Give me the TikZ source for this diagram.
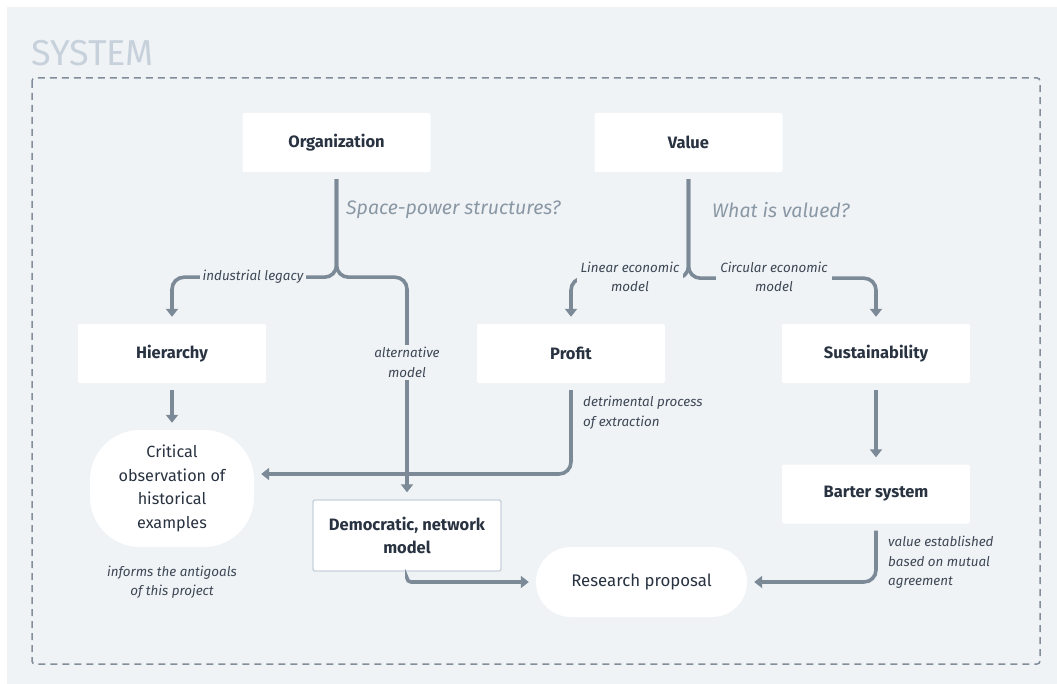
\documentclass[tikz,border=0pt]{standalone}
\usepackage{fontspec}
\setmainfont{Fira Sans}
\usetikzlibrary{arrows.meta,calc}
\definecolor{bg}{RGB}{239,243,246}
\definecolor{ln}{RGB}{124,138,152}
\definecolor{txt}{RGB}{40,50,64}
\definecolor{lbl}{RGB}{62,72,85}
\definecolor{qcol}{RGB}{138,151,164}
\definecolor{syscol}{RGB}{199,209,219}
\definecolor{framecol}{RGB}{130,142,155}
\definecolor{demborder}{RGB}{200,210,220}
\tikzset{
  box/.style={fill=white, rounded corners=2pt, minimum width=188pt, minimum height=59pt,
    inner sep=0pt, text=txt, align=center, font=\bfseries\fontsize{16.5}{21}\selectfont},
  conn/.style={draw=ln, line width=3.6pt, rounded corners=12pt, shorten <=7pt, shorten >=7pt,
    -{Triangle[width=12pt,length=8pt]}},
  lab/.style={text=lbl, font=\itshape\fontsize{13.4}{19.5}\selectfont, inner sep=0pt},
  flab/.style={lab, fill=bg, inner xsep=3pt, inner ysep=2pt, align=center},
  quest/.style={text=qcol, font=\itshape\fontsize{19.5}{23}\selectfont, inner sep=0pt, anchor=west},
}
\begin{document}
\begin{tikzpicture}[x=1pt,y=-1pt]
\useasboundingbox (0,0) rectangle (1057,684);
\fill[white] (0,0) rectangle (1057,684);
\fill[bg] (7,7) rectangle (1057,684);
\node[text=syscol, font=\fontsize{36}{40}\selectfont, anchor=base west, inner sep=0pt] (sys) at (31,66) {SYSTEM};
\draw[framecol, line width=1.5pt, dash pattern=on 7pt off 5pt, rounded corners=3pt] (32,78) rectangle (1040,664);

% nodes
\node[box] (org) at (336.5,142.5) {Organization};
\node[box] (val) at (688.5,142.5) {Value};
\node[box] (hier) at (172,353.5) {Hierarchy};
\node[box] (profit) at (571,353.5) {Profit};
\node[box] (sust) at (876,353.5) {Sustainability};
\node[box] (barter) at (876,494) {Barter system};
\node[box, draw=demborder, line width=1.4pt, minimum height=71pt, font=\bfseries\fontsize{16.5}{23}\selectfont] (dem) at (407,535.5) {Democratic, network\\model};
\node[fill=white, rounded corners=50pt, minimum width=164pt, minimum height=117pt, inner sep=0pt,
  text=txt, align=center, font=\fontsize{16.2}{23.8}\selectfont] (crit) at (172,488.5)
  {Critical\\observation of\\historical\\examples};
\node[fill=white, rounded corners=34.9pt, minimum width=211pt, minimum height=70pt, inner sep=0pt,
  text=txt, font=\fontsize{16.8}{20}\selectfont] (res) at (641.5,582) {Research proposal};

% questions
\node[quest] (q1) at (346,210) {Space-power structures?};
\node[quest] (q2) at (712,210) {What is valued?};

% connectors
\draw[conn] (profit.south) |- ($(crit.east)+(0,-14.5)$);
\draw[conn] (org.south) -- ++(0,105) -| (hier.north);
\draw[conn] (org.south) -- ++(0,105) -| (dem.north);
\draw[conn] (val.south) -- ++(0,106) -| (profit.north);
\draw[conn] (val.south) -- ++(0,106) -| (sust.north);
\draw[conn] (hier.south) -- (crit.north);
\draw[conn] (sust.south) -- (barter.north);
\draw[conn] (barter.south) |- (res.east);
\draw[conn, rounded corners=4pt] (dem.south) |- (res.west);

% labels
\node[flab] (l1) at (253,277) {industrial legacy};
\node[flab, inner ysep=2pt] (l2) at (407,362.5) {alternative\\model};
\node[flab, inner xsep=4pt] (l3) at (630,277) {Linear economic\\model};
\node[flab, inner xsep=4pt] (l4) at (774,277) {Circular economic\\model};
\node[lab, anchor=north west, align=left] (l5) at (583,396) {detrimental process\\of extraction};
\node[lab, anchor=north west, align=left] (l6) at (888,536) {value established\\based on mutual\\agreement};
\node[lab, align=center] (l7) at (172,582) {informs the antigoals\\of this project};
\end{tikzpicture}
\end{document}
